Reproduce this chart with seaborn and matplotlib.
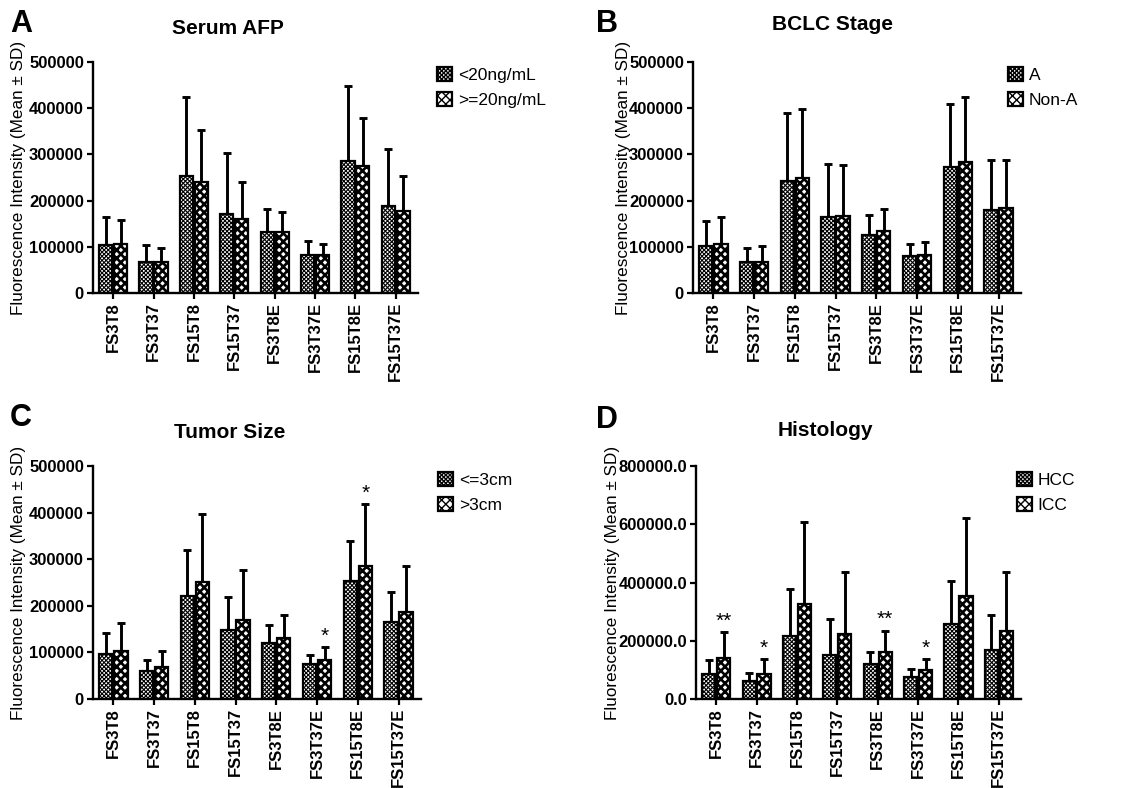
import numpy as np
import pandas as pd
import matplotlib
matplotlib.use("Agg")
import matplotlib.pyplot as plt
from matplotlib.patches import Patch
from matplotlib.container import BarContainer
from matplotlib.ticker import FuncFormatter, MultipleLocator
import seaborn as sns

sns.set_theme(style="ticks")
plt.rcParams['font.family'] = ['Liberation Sans', 'DejaVu Sans']
plt.rcParams['hatch.linewidth'] = 1.0
plt.rcParams['text.color'] = 'black'
plt.rcParams['axes.labelcolor'] = 'black'

categories = ["FS3T8", "FS3T37", "FS15T8", "FS15T37", "FS3T8E", "FS3T37E", "FS15T8E", "FS15T37E"]

# Panel A: Serum AFP
a_groups = ["<20ng/mL", ">=20ng/mL"]
a_mean1 = [103000, 68000, 253000, 172000, 131000, 82000, 285000, 189000]
a_err1 = [165000, 104000, 425000, 302000, 182000, 113000, 447000, 312000]
a_mean2 = [105000, 68000, 240000, 160000, 132000, 83000, 274000, 177000]
a_err2 = [158000, 98000, 353000, 241000, 175000, 107000, 378000, 254000]

# Panel B: BCLC Stage
b_groups = ["A", "Non-A"]
b_mean1 = [102000, 67000, 242000, 165000, 125000, 80000, 272000, 180000]
b_err1 = [155000, 98000, 389000, 279000, 169000, 105000, 409000, 287000]
b_mean2 = [105000, 68000, 248000, 167000, 134000, 83000, 283000, 185000]
b_err2 = [164000, 102000, 399000, 278000, 182000, 111000, 424000, 288000]

# Panel C: Tumor Size
c_groups = ["<=3cm", ">3cm"]
c_mean1 = [96000, 61000, 222000, 149000, 121000, 76000, 254000, 166000]
c_err1 = [141000, 84000, 319000, 218000, 159000, 94000, 340000, 230000]
c_mean2 = [104000, 69000, 251000, 169000, 132000, 84000, 286000, 187000]
c_err2 = [163000, 103000, 396000, 276000, 180000, 111000, 419000, 286000]
c_stars = [(5, 1, "*"), (6, 1, "*")]

# Panel D: Histology
d_groups = ["HCC", "ICC"]
d_mean1 = [87000, 62000, 215000, 150000, 119000, 77000, 256000, 170000]
d_err1 = [133000, 90000, 377000, 274000, 160000, 102000, 406000, 288000]
d_mean2 = [142000, 87000, 327000, 223000, 162000, 98000, 355000, 233000]
d_err2 = [231000, 136000, 608000, 437000, 235000, 138000, 621000, 437000]
d_stars = [(0, 1, "**"), (1, 1, "*"), (4, 1, "**"), (5, 1, "*")]

hatches = ["xxxxxxxx", "xxxx"]
hatch_lw = [0.8, 1.9]

fig = plt.figure(figsize=(11.27, 7.88), dpi=100)

panels = [
    dict(letter="A", title="Serum AFP", groups=a_groups, m1=a_mean1, e1=a_err1, m2=a_mean2, e2=a_err2,
         stars=[], ymax=500000, step=100000, fmt="{:.0f}",
         rect=[0.0825, 0.6282, 0.2884, 0.2931], leg=(0.3878, 0.915), ylab=-0.205,
         title_xy=(228, 28), letter_xy=(10, 24)),
    dict(letter="B", title="BCLC Stage", groups=b_groups, m1=b_mean1, e1=b_err1, m2=b_mean2, e2=b_err2,
         stars=[], ymax=500000, step=100000, fmt="{:.0f}",
         rect=[0.6149, 0.6282, 0.2910, 0.2931], leg=(0.8944, 0.915), ylab=-0.19,
         title_xy=(832, 25), letter_xy=(596, 24)),
    dict(letter="C", title="Tumor Size", groups=c_groups, m1=c_mean1, e1=c_err1, m2=c_mean2, e2=c_err2,
         stars=c_stars, ymax=500000, step=100000, fmt="{:.0f}",
         rect=[0.0825, 0.1129, 0.2910, 0.2957], leg=(0.3886, 0.401), ylab=-0.205,
         title_xy=(230, 432), letter_xy=(10, 418)),
    dict(letter="D", title="Histology", groups=d_groups, m1=d_mean1, e1=d_err1, m2=d_mean2, e2=d_err2,
         stars=d_stars, ymax=800000, step=200000, fmt="{:.1f}",
         rect=[0.6176, 0.1129, 0.2884, 0.2957], leg=(0.9024, 0.401), ylab=-0.235,
         title_xy=(825, 431), letter_xy=(596, 420)),
]

W, H = 1127.0, 788.0

for p in panels:
    ax = fig.add_axes(p["rect"])
    df = pd.DataFrame({
        "cat": categories * 2,
        "grp": [p["groups"][0]] * 8 + [p["groups"][1]] * 8,
        "val": list(p["m1"]) + list(p["m2"]),
    })
    sns.barplot(data=df, x="cat", y="val", hue="grp", order=categories, hue_order=p["groups"],
                palette=["white", "white"], errorbar=None, width=0.74, gap=0.12,
                edgecolor="black", linewidth=1.6, legend=False, ax=ax)
    errs = [p["e1"], p["e2"]]
    bar_conts = [c for c in list(ax.containers) if isinstance(c, BarContainer)]
    for gi, cont in enumerate(bar_conts):
        xs, tops, sds = [], [], []
        for bi, bar in enumerate(cont):
            bar.set_hatch(hatches[gi])
            try:
                bar.set_hatch_linewidth(hatch_lw[gi])
            except Exception:
                pass
            bar.set_zorder(2)
            xs.append(bar.get_x() + bar.get_width() / 2)
            tops.append(bar.get_height())
            sds.append(errs[gi][bi] - bar.get_height())
        ax.errorbar(xs, tops, yerr=[np.zeros(len(sds)), sds], fmt="none", ecolor="black",
                    elinewidth=2.1, capsize=3.2, capthick=2.1, zorder=1)
        for (ci, si, txt) in p["stars"]:
            if si == gi:
                ax.annotate(txt, (xs[ci], errs[gi][ci]), xytext=(0, 1), textcoords="offset points",
                            ha="center", va="bottom", fontsize=15, color="black")

    ax.set_ylim(0, p["ymax"])
    ax.set_xlim(-0.5, 7.55)
    ax.yaxis.set_major_locator(MultipleLocator(p["step"]))
    fmt = p["fmt"]
    ax.yaxis.set_major_formatter(FuncFormatter(lambda v, pos, f=fmt: f.format(v)))
    sns.despine(ax=ax)
    for s in ["left", "bottom"]:
        ax.spines[s].set_linewidth(1.7)
        ax.spines[s].set_color("black")
    ax.tick_params(axis="both", direction="out", length=4.5, width=1.6, colors="black",
                   labelsize=12, pad=2)
    for lab in ax.get_yticklabels() + ax.get_xticklabels():
        lab.set_fontweight("bold")
    ax.set_xticks(range(len(categories)))
    ax.set_xticklabels(categories, rotation=90, fontweight="bold", fontsize=12)
    ax.set_xlabel("")
    ax.set_ylabel("Fluorescence Intensity (Mean \u00b1 SD)", fontsize=12.3, color="black")
    ax.yaxis.set_label_coords(p["ylab"], 0.5)
    ax.set_facecolor("white")
    ax.grid(False)

    handles = []
    for gi in range(2):
        h = Patch(facecolor="white", edgecolor="black", hatch=hatches[gi], linewidth=1.6,
                  label=p["groups"][gi])
        try:
            h.set_hatch_linewidth(hatch_lw[gi])
        except Exception:
            pass
        handles.append(h)
    ax.legend(handles=handles, loc="upper left", bbox_to_anchor=p["leg"], bbox_transform=fig.transFigure,
              frameon=False, borderpad=0, borderaxespad=0, fontsize=12.5, handlelength=0.85,
              handleheight=0.85, handletextpad=0.35, labelspacing=0.55, labelcolor="black")

    fig.text(p["title_xy"][0] / W, 1 - p["title_xy"][1] / H, p["title"], ha="center", va="center",
             fontsize=15, fontweight="bold", color="black")
    fig.text(p["letter_xy"][0] / W, 1 - p["letter_xy"][1] / H, p["letter"], ha="left", va="center",
             fontsize=22, fontweight="bold", color="black")

fig.savefig("out.png", dpi=100, facecolor="white")
